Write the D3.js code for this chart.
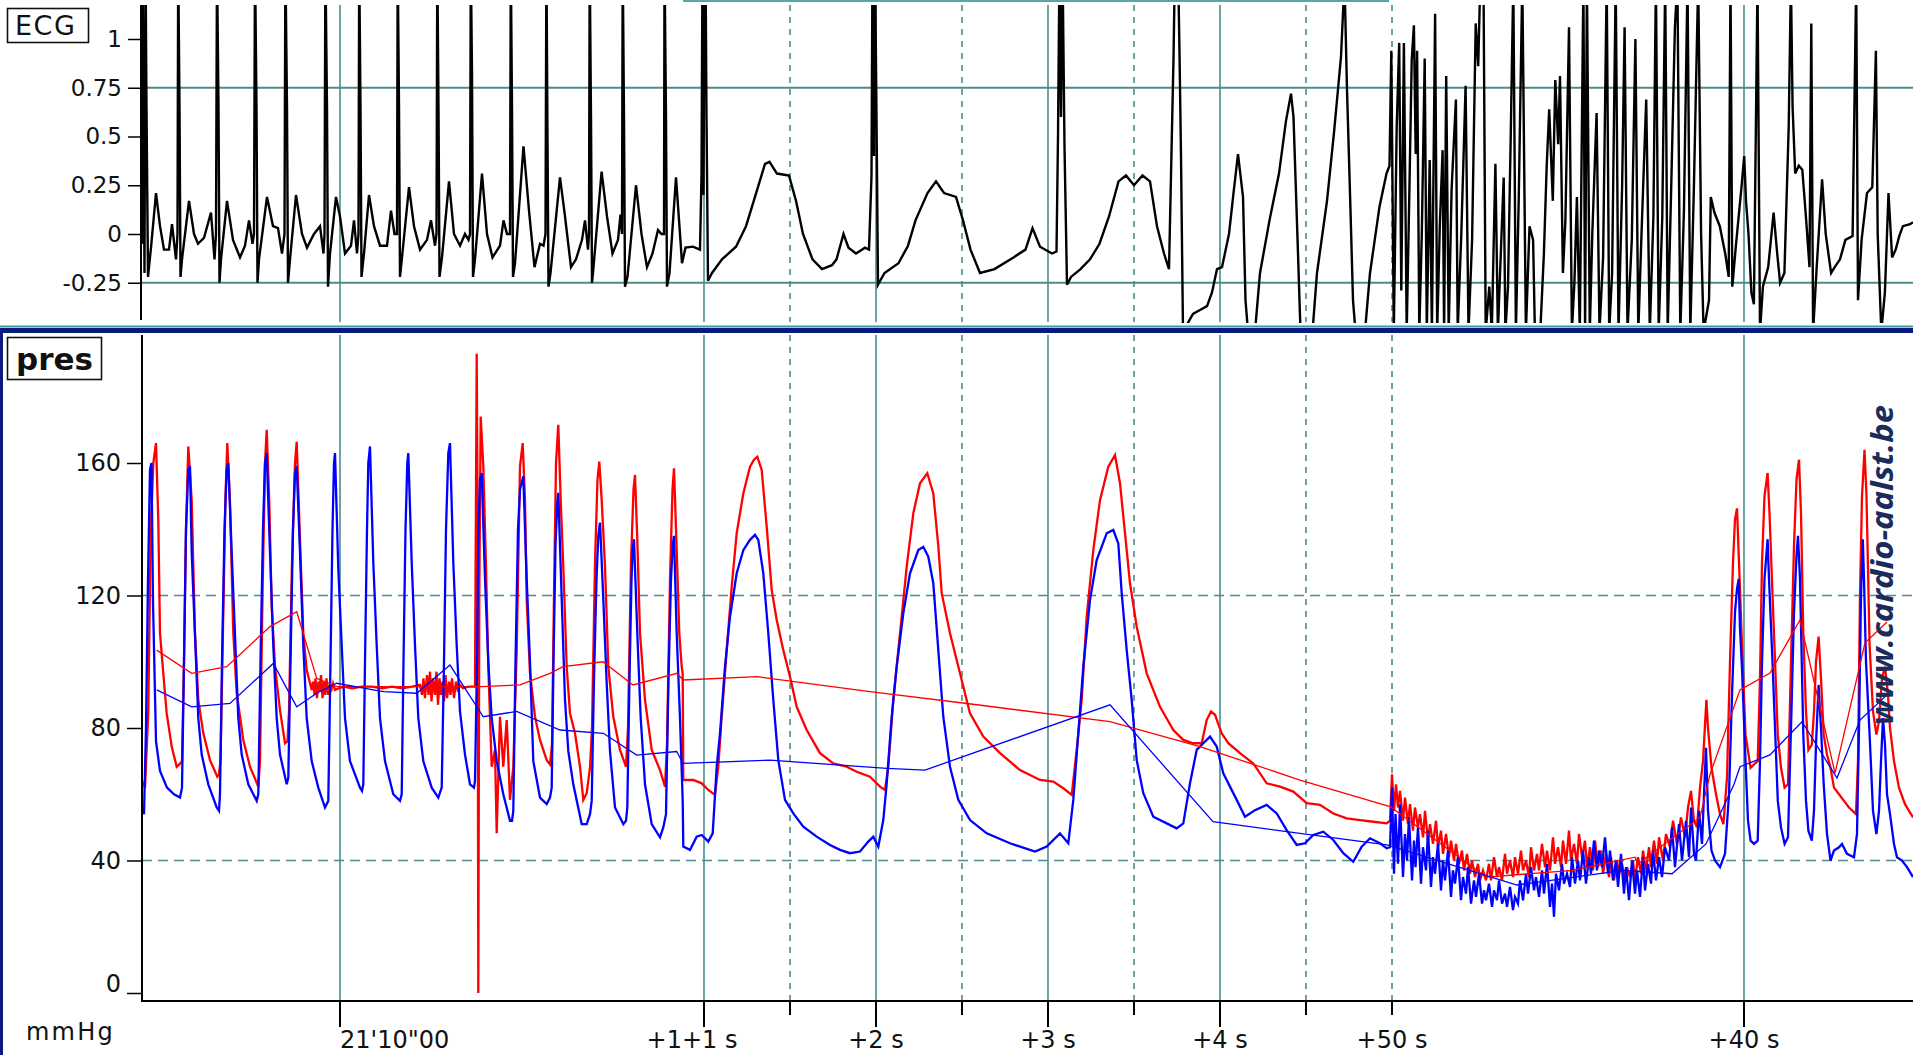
<!DOCTYPE html>
<html><head><meta charset="utf-8">
<script src="https://cdn.jsdelivr.net/npm/d3@7"></script>
<style>
html,body{margin:0;padding:0;background:#fff;overflow:hidden}
svg{display:block}
</style></head><body>
<svg id="chart" width="1913" height="1055"></svg>
<script>
// Recording: ECG (mV) and two pressure channels (mmHg), sampled at 172 samples per second.
// Every trace point is [sample index, value].
const SAMPLE_RATE = 172;
const SAMPLE_COUNT = 1771;

const timeTickSamples = [198, 562, 734, 906, 1078, 1250, 1602];
const timeTickLabels = ["21'10\"00", "+1+1 s", "+2 s", "+3 s", "+4 s", "+50 s", "+40 s"];
const timeTickMajor = [true, true, true, true, true, false, true];
const halfSecondSamples = [648, 820, 992, 1164];

const ecgTickValues = [-0.25, 0, 0.25, 0.5, 0.75, 1];
const ecgTickLabels = ["-0.25", "0", "0.25", "0.5", "0.75", "1"];
const ecgGridValues = [-0.25, 0.75];
const presTickValues = [0, 40, 80, 120, 160];
const presGridValues = [40, 120];

// ECG: regular rhythm
const ecgSinus = [[0,-0.05],[0.5,1.4],[1.5,0.6],[2.5,-0.2],[3.5,1.4],[4.5,0.65],[6,-0.22],[9,-0.07],[14,0.21],[18,0.04],[22,-0.08],[27,-0.08],[30,0.05],[34,-0.13],
[35.5,0],[36.2,1.4],[37.5,0.65],[38.5,-0.22],[40,-0.13],[47,0.17],[52,0],[56,-0.05],[62,-0.02],[69,0.11],[72.5,-0.13],
[74,0],[75,1.4],[76.5,0.65],[77.5,-0.25],[79,-0.13],[85,0.17],[91,-0.03],[98,-0.12],[103,-0.06],[107,0.07],[110.5,-0.05],
[112,0],[113,1.4],[114.5,0.65],[115.5,-0.25],[117,-0.13],[125,0.19],[131,0.04],[136,0.03],[140,-0.1],
[142.5,0],[143.4,1.4],[145,0.65],[146,-0.25],[148,-0.13],[154,0.2],[160,0],[165,-0.07],[172,0],[178,0.04],[181.5,-0.1],
[182.5,0],[183.4,1.4],[185,0.65],[186,-0.27],[188,-0.1],[194,0.19],[198,0.09],[203,-0.1],[209,-0.06],[212,0.07],[215,-0.1],
[216.5,0],[217.2,1.4],[218.5,0.65],[219.5,-0.22],[222,-0.1],[227,0.2],[232,0.04],[238,-0.06],[245,-0.06],[249,0.12],[252.5,0],
[255,0],[255.7,1.4],[257,0.65],[258,-0.22],[260,-0.12],[267,0.24],[272,0.04],[278,-0.08],[285,-0.03],[289,0.07],[293,-0.06],
[294.5,0],[295.3,1.4],[296.5,0.65],[297.5,-0.22],[300,-0.12],[307,0.27],[312,0],[318,-0.06],[323,0],[326.5,-0.03],
[328,0],[328.8,1.4],[330,0.82],[331,-0.22],[333,-0.13],[340,0.31],[345,0],[350.5,-0.12],[358,-0.06],[361.5,0.07],[365,0],
[368,0],[368.8,1.4],[370,0.65],[371,-0.22],[373,-0.15],[381.5,0.45],[387,0.12],[392.5,-0.17],[398,-0.05],[401.5,-0.06],
[403.5,0],[404.4,1.4],[405.5,0.5],[406.5,-0.27],[408.5,-0.2],[418,0.29],[423,0.09],[429,-0.17],[434,-0.13],[440,-0.03],[443,0.07],[446,-0.08],
[447,0],[447.7,1.4],[449,0.6],[450,-0.25],[451,-0.2],[459.6,0.32],[465,0.09],[470.5,-0.1],[476,-0.03],[478.5,0.1],
[480,0],[480.7,1.4],[482,0.6],[483,-0.27],[485.5,-0.22],[494,0.25],[499.5,0],[505,-0.17],[510.5,-0.1],[516,0.02],[519.5,0],
[522,0],[522.5,1.4],[524,0.6],[525,-0.27],[527.5,-0.2],[534,0.29],[538,0],[540,-0.15],[543.5,-0.07]];

// ECG: slow beats with wide waves
const ecgSlow = [[551,-0.065],[558,-0.08],[559.5,0.3],[560.5,1.4],[561.5,0.2],[562.5,1.4],[563.5,1.4],[564.5,0.6],[566,-0.24],[570,-0.2],[580,-0.13],[594,-0.065],[604,0.04],[613,0.19],[623,0.36],[627.5,0.37],[635,0.31],[647,0.3],[654,0.17],[661,0],[670.5,-0.13],[680,-0.18],[690,-0.16],[694.5,-0.13],[701.5,0],[706.5,-0.07],[714,-0.1],[723,-0.07],[727,-0.08],
[729.5,0.3],[730.5,1.4],[732,0.4],[733,1.4],[734.5,0.6],[736,-0.26],[742.5,-0.2],[756.5,-0.15],[766,-0.06],[773.5,0.07],[785.5,0.21],[794,0.27],[802,0.21],[814,0.19],[821,0.07],[828.5,-0.08],[838,-0.2],[852.5,-0.18],[871.5,-0.12],[883.5,-0.08],[890.5,0.03],[898,-0.065],[910,-0.1],[914.5,-0.09],
[916,0.5],[917.5,1.4],[919,0.6],[920.5,1.4],[922.5,0.45],[925,-0.26],[929,-0.22],[938.5,-0.18],[948,-0.13],[957.5,-0.05],[967,0.09],[976.5,0.27],[984,0.3],[992,0.25],[1000.5,0.3],[1008,0.27],[1015,0.04],[1022,-0.1],[1027,-0.18],
[1031.5,0.9],[1033,1.4],[1036,1.4],[1037.5,0.93],[1039,0.4],[1041,-0.5],[1051,-0.41],[1058,-0.39],[1065,-0.37],[1070,-0.3],[1075,-0.18],[1080,-0.17],[1087,0],[1091.5,0.21],[1096,0.41],[1101,0.19],[1103.5,-0.34],[1106,-0.5],[1113,-0.5],[1118,-0.2],[1127.5,0.07],[1137,0.31],[1144,0.58],[1149,0.72],[1151.5,0.6],[1156,-0.1],[1158.5,-0.5],[1170.5,-0.5],[1175,-0.2],[1185,0.17],[1192,0.52],[1199,0.91],[1202.5,1.3],[1205,0.74],[1208.5,0.12],[1211,-0.34],[1213.5,-0.5],[1223,-0.5],[1228,-0.2],[1237.5,0.14],[1244.5,0.31]];

// ECG: fast irregular activity
const ecgFibrillation = [[1247.5,0.35],[1249.3,0.94],[1251.8,-0.5],[1254.7,0.55],[1257.2,0.98],[1259.3,-0.29],[1261.9,0.98],[1264.7,-0.5],[1267.2,0.17],[1269.7,0.89],[1271.9,1.07],[1273.7,0.41],[1275.1,0.94],[1277.3,-0.5],[1279.8,0],[1282.7,0.9],[1284.8,-0.5],[1287.7,0.38],[1289.9,-0.5],[1293.1,1.13],[1295.2,-0.5],[1297.8,0.04],[1300.6,0.43],[1302.1,-0.5],[1304.2,0.81],[1306.7,-0.5],[1309.6,0.23],[1313.9,0.69],[1315.7,-0.5],[1319.3,0],[1323.6,0.76],[1326.5,-0.5],[1330.1,-0.03],[1333.7,1.08],[1336.2,0.86],[1338.3,1.3],[1341.5,1.3],[1343.7,-0.5],[1347.3,-0.27],[1349.8,-0.5],[1353.4,0.36],[1355.9,-0.5],[1358.8,-0.1],[1361.7,0.29],[1363.4,-0.5],[1366,-0.27],[1368.8,0.52],[1371.3,1.3],[1373.9,-0.5],[1376.7,0.17],[1380.3,1.3],[1383.9,-0.5],[1387.5,0.04],[1391.1,-0.03],[1392.9,-0.5],[1398.3,-0.5],[1401.9,-0.1],[1404.7,0.35],[1407.2,0.64],[1410.8,0.17],[1413.3,0.79],[1416.2,0.46],[1418,0.81],[1420.9,-0.2],[1423.4,0.07],[1427,1.06],[1429.9,-0.5],[1432.4,-0.25],[1434.9,0.19],[1437.8,-0.5],[1441.4,1.3],[1443.1,-0.5],[1444.9,1.3],[1447.8,-0.5],[1450.3,0],[1454.6,0.62],[1457.5,-0.5],[1461.1,-0.12],[1464.7,1.3],[1467.2,-0.5],[1470.1,-0.2],[1473.7,1.3],[1476.5,-0.5],[1480.1,0.24],[1482.6,1.06],[1485.5,-0.5],[1489.8,-0.03],[1493.4,1.0],[1496.3,-0.5],[1499.5,0],[1504.2,0.69],[1507.8,-0.5],[1511.4,0.09],[1513.9,1.3],[1516.7,-0.5],[1520.3,0.09],[1523.2,1.3],[1525.7,-0.5],[1529.3,0.26],[1532.9,1.06],[1535.4,1.3],[1538.3,-0.5],[1541.9,0.11],[1545.5,1.3],[1548.3,-0.5],[1551.9,0.24],[1556.2,1.3],[1559.1,0],[1561.6,-0.5],[1567,-0.34],[1568.8,0.19],[1572.4,0.11],[1577.8,0.04],[1583.2,-0.1],[1586.7,-0.22],[1588.5,1.3],[1590.3,-0.27],[1593.9,-0.06],[1599.3,0.23],[1602.2,0.4],[1604,0.17],[1606.5,0],[1609.4,-0.3],[1611.9,-0.36],[1615.5,1.3],[1618,-0.5],[1620.9,-0.27],[1626.2,-0.17],[1631.6,0.11],[1635.2,-0.1],[1638.1,-0.25],[1642.4,-0.2],[1646.7,0.55],[1648.9,1.3],[1650.6,0.65],[1653.2,0.31],[1656.8,0.35],[1660.3,0.33],[1663.9,0.09],[1667.5,-0.17],[1669.3,1.08],[1671.1,-0.5],[1674.7,-0.17],[1680.1,0.28],[1683.7,0],[1689.1,-0.2],[1692.7,-0.17],[1698,-0.13],[1703.4,-0.03],[1710.6,-0.01],[1714.2,1.3],[1716,-0.34],[1719.6,-0.03],[1725,0.21],[1730.3,0.24],[1733.9,0.94],[1735.7,0],[1739.3,-0.5],[1742.9,-0.3],[1746.5,0.21],[1750.1,-0.12],[1753.7,-0.08],[1757.3,-0.01],[1760.9,0.04],[1768,0.05],[1771,0.06]];

// Pressure, red channel
const redSinus = [[0,64],[3,62],[6.3,85],[8.7,138.8],[11.3,160],[14,166],[16.3,142.8],[18,108.6],[21.3,96.5],[24.7,84.4],[29.7,74.4],[34.7,68.3],[37.3,69],
[40,70],[42,100],[44,140],[46.3,165],[49.7,148.8],[53,108.6],[56.3,88.5],[61.3,78.4],[68,70.3],[75.3,65.3],[77,66],
[78.5,70],[81,110],[83.5,150],[85.3,166],[88,148],[91.3,108.6],[94.7,90.5],[101.3,76.4],[108,68.3],[116.3,62.3],
[118,70],[120.5,120],[123,160],[124.7,170],[127.3,148],[129.7,116.6],[133,98.5],[138,85.4],[143,75.4],[145.5,76],
[147,85],[150,130],[153,160],[154.7,166.4],[158,136.8],[161.3,108.6],[164.7,97.5],[169.7,91.5],
[171,94],[172.5,90],[173.5,95],[175,89],[176.5,94],[177.5,91],[179,96],[180.5,89],[182,94],[183,90],[184.5,95],[186,90],[187.5,93],[189,91],[191,93.5],[193,91.5],[197,92],[202,92.5],[210,92],[220,92.5],[230,92.5],[240,92],[250,92.5],[260,92],[270,92.5],[278,93],[280,90],[281.5,95],[283,89],[285,96],[286.5,90],[288,97],[289.5,88],[291,95],[293,90],[294.5,97],[296,87],[297.5,95],[299,90],[300.5,94],[302,88],[303.5,96],[305,89],[307,94],[308.5,90],[310,95],[312,89],[314,94],[316,91],[318,93],[321,92],[327,92.5],[333,92.5],
[334.7,193],[335.5,150],[336.3,0],[337.3,120],[338.7,174],[341.3,159],[344,128.7],[346.3,98.5],[349.7,68.3],[353,73.4],[354.7,48.2],[358,83.4],[361.3,68.3],[364.7,82.4],[368,58.3],[371.3,68.3],[374.7,103.5],[378,159],[380.7,166],[383,148.8],[384.7,118.6],[388,96.5],[393,83.4],[398,76.4],[404.7,70.3],[408,69],
[410,75],[412,120],[414,160],[416.3,171.5],[418.7,148.8],[421.3,128.7],[424.7,98.5],[428,84.4],[433,78.4],[438,68.3],[441.3,58.3],[444.7,60.3],[448,68],
[450,80],[453,130],[455.5,155],[457.3,160.4],[459.7,148.8],[463,128.7],[466.3,98.5],[471.3,83.4],[478,73.4],[484,68.3],
[486,80],[489,130],[491.5,152],[493,156.4],[495.3,136.8],[498,108.6],[503,88.5],[509.7,73.4],[518,67.3],[523,62.3],
[525,75],[528,125],[530.5,152],[532,158.4],[534.7,133.7],[537.3,108.6],[539.7,98.5],[540.7,96.5]];

const redSlow = [[541.3,64.3],[551.3,64.3],[559.7,63.3],[566.3,61.3],[573,59.8],[576.3,68.3],[579.7,83.4],[584.7,103.5],[589.7,122.7],[594.7,138.8],[601.3,150.8],[608,158.9],[612,161],[615.3,161.9],[619.7,157.9],[624.7,140.8],[629.7,121.7],[634.7,112.6],[641.3,103.5],[648,95.5],[654.7,86.4],[664.7,79.4],[678,72.4],[691.3,69.3],[704.7,68.3],[714.7,66.8],[728,65.3],[738,62.3],[743,61.3],[746.3,68.3],[751.3,88.5],[758,108.6],[764.7,128.7],[771.3,144.8],[778,153.9],[785.3,156.9],[791.3,150.8],[796.3,135],[799.7,120.7],[808,108.6],[818,96.5],[828,84.4],[841.3,77.4],[858,72.4],[878,67.3],[898,64.3],[911.3,63.8],[921.3,61.8],[929.7,59.8],[931,63.3],[934.7,73.4],[939.7,88.5],[944.7,113.6],[951.3,133.7],[958,148.8],[966.3,158.9],[973,162.4],[978,153.9],[983,138.8],[988,123.7],[994.7,110.6],[1004.7,96.5],[1018,86.4],[1031.3,79.4],[1041.3,76.4],[1051.3,75.4],[1059.7,75.4],[1064.7,82.4],[1069,85],[1073,84],[1079.7,78.4],[1086.3,75.4],[1098,72.4],[1111.3,69.3],[1124.7,63.3],[1138,62.3],[1151.3,60.8],[1164.7,57.3],[1178,56.8],[1191.3,54.2],[1204.7,52.7],[1218,52.2],[1231.3,51.7],[1244.7,51.2]];

const redFast = [[1248,52],[1250,66],[1252,55],[1254,63],[1256,56],[1258,61],[1261,52],[1263,59],[1266,51],[1268,57],[1271,49],[1273,56],[1276,50],[1278,54],[1281,47],[1283,55],[1286,46],[1288,51],[1291,45],[1294,52],[1296,44],[1299,49],[1301,42],[1304,48],[1307,41],[1309,46],[1312,40],[1314,45],[1317,39],[1320,43],[1322,37],[1325,42],[1328,36],[1330,40],[1333,35],[1336,39],[1338,34],[1341,37],[1344,34],[1347,39],[1349,34],[1352,41],[1355,35],[1357,38],[1360,34],[1363,42],[1365,36],[1368,40],[1371,35],[1373,41],[1376,36],[1379,43],[1381,37],[1384,40],[1387,35],[1389,44],[1392,37],[1395,42],[1397,37],[1400,45],[1403,38],[1405,43],[1408,37],[1411,47],[1413,39],[1416,44],[1419,38],[1421,46],[1424,39],[1427,49],[1429,40],[1432,45],[1435,39],[1437,48],[1440,41],[1443,46],[1445,38],[1448,44],[1451,37],[1453,46],[1456,38],[1459,43],[1461,36],[1464,42],[1467,35],[1469,41],[1472,34],[1475,40],[1477,36],[1480,39],[1483,34],[1485,38],[1488,35],[1491,40],[1493,34],[1496,41],[1499,36],[1501,43],[1504,37],[1507,44],[1509,38],[1512,46],[1515,39],[1517,47],[1521,40],
[1524,48],[1528,44],[1531,52],[1535,45],[1539,53],[1543,47],[1546,56],[1549,61],[1552,52],[1555,50],[1558,62],[1561,70],[1564.4,88.5],[1566,80],[1569.5,68],[1574,60],[1578,54],[1581.4,51],[1585,65],[1588,100],[1591,130],[1593,143],[1595,146.3],[1597,130],[1600,105],[1603.5,78],[1608.6,68],[1612,69],[1615.7,70],[1618,95],[1620,130],[1622.5,150],[1625.6,157],[1627.5,145],[1630.7,118.6],[1635.8,78],[1639,68],[1642.6,62],[1646,63],[1649,100],[1652,135],[1654.5,155],[1657,161],[1659,145],[1661.3,108.6],[1664,85],[1666.4,73.4],[1669.8,75],[1672,85],[1674,100],[1676.6,107.6],[1679,95],[1681.7,78],[1685,72],[1688.5,68],[1692,62],[1697,60],[1702,58],[1707,56],[1714,54],[1716,70],[1718,120],[1720,150],[1722.5,164],[1724.5,150],[1727.6,105],[1731,85],[1734.4,78],[1737,82],[1740,95],[1743,98.5],[1746,90],[1748,80],[1752,70],[1757,62],[1763,57],[1771,53]];

// Pressure, blue channel
const blueSinus = [[0,56],[2,54],[4,80],[6,125],[8,158],[9.5,160],[11,118],[14,76],[18,67],[25,62],[32,60],[38,59],
[40,62],[42,100],[44,140],[46.3,158],[48,159],[49.7,133],[53,108],[56.3,83],[59.7,72],[66.3,63],[74.7,56],[77,55],
[78,60],[80,100],[82.5,140],[84.7,158],[86.3,160],[89.7,133],[93,108],[96.3,83],[99.7,72],[106.3,63],[114.7,58],
[116.3,60],[118.5,100],[121,140],[123,160],[124.7,163],[128,133],[131.3,105],[134.7,83],[138,72],[144.7,63],
[146.3,65],[148.5,100],[151,140],[153,157],[154.7,159],[158,133],[161.3,105],[164.7,83],[169.7,70],[176.3,62],[183,56],
[186.3,58],[188.5,100],[190.5,140],[192,160],[193,163],[196.3,128],[199.7,105],[203,83],[208,70],[218,62],[220,61],
[221.3,63],[223,100],[225,140],[226.3,160],[228,165],[231.3,130],[234.7,105],[238,83],[243,70],[251.3,60],[258,58],
[259.7,60],[261.5,100],[263.5,140],[265.3,160],[266.3,163],[269.7,130],[273,105],[276.3,83],[281.3,70],[289.7,62],[296.3,59],
[299.7,62],[302,100],[304,140],[306.3,163],[308,166],[311.3,130],[314.7,105],[318,85],[323,72],[328,63],[332,62],
[333,64],[335,100],[336.5,140],[338,155],[339.7,157],[343,125],[346.3,100],[349.7,83],[354.7,70],[361.3,60],[368,52],[370,52],
[371.3,55],[373.5,100],[376,140],[378,152],[381.3,156],[384.7,125],[388,100],[391.3,70],[398,59],[404.7,57],[408,59],
[409.7,62],[411.5,100],[413.5,135],[415.3,148],[416.3,151],[419.7,119],[423,88.5],[426.3,73],[431.3,63],[439.7,51],[444.7,51],[448,54],
[449.7,58],[452,95],[454.5,125],[456.3,138],[458,142],[461.3,119],[464.7,93.5],[468,73],[473,56],[481.3,51],[484,52],
[485.3,56],[487.5,95],[489.5,125],[490.7,134],[492,137],[495.3,108.6],[498.7,83],[503,63],[509.7,51],[518,47],[521.3,50],
[524,54],[526.5,95],[529,125],[530.7,135],[532,138],[534.7,108.6],[538,83],[540.7,58]];

const blueSlow = [[541.3,44.2],[548,43.2],[554.7,47.2],[559.7,47.7],[566.3,45.7],[570.7,48.2],[574.7,68.3],[578,78.4],[583,98.5],[588,113.6],[594.7,126.7],[601.3,133.7],[608,136.8],[613,138.3],[616.3,136.8],[621.3,126.7],[626.3,108.6],[631.3,88.5],[636.3,70.3],[643,58.3],[651.3,54.2],[661.3,50.2],[674.7,47.2],[688,44.7],[698,43.2],[708,42.2],[718,42.7],[726.3,45.7],[731.3,47.2],[736.3,44.2],[741.3,52.2],[744.7,63.3],[749.7,83.4],[754.7,98.5],[761.3,114.6],[768,126.7],[776.3,133.7],[781.3,134.7],[786.3,131.7],[791.3,123.7],[796.3,103.5],[801.3,83.4],[808,68.3],[816.3,58.3],[828,52.2],[844.7,48.2],[868,45.2],[893,42.7],[904.7,44.2],[918,48.2],[926.3,45.2],[931.3,58.3],[936.3,78.4],[941.3,98.5],[948,118.6],[954.7,130.7],[964.7,138.8],[971.3,139.8],[976.3,135.7],[979.7,120.7],[984.7,103.5],[989.7,88.5],[994.7,70.3],[1001.3,60.3],[1011.3,53.2],[1024.7,51.2],[1034.7,49.7],[1041.3,51.2],[1048,63.3],[1054.7,73.4],[1061.3,75.4],[1068,77.4],[1074.7,74.4],[1081.3,66.3],[1088,62.3],[1094.7,58.3],[1103,53.2],[1113,55.2],[1124.7,56.8],[1134.7,54.2],[1144.7,49.2],[1154.7,44.7],[1163,45.2],[1171.3,47.7],[1181.3,48.7],[1191.3,46.2],[1201.3,42.2],[1211.3,39.6],[1219.7,44.2],[1228,46.7],[1238,45.2],[1244.7,43.7]];

const blueFast = [[1248,44],[1250,62],[1252,36],[1253.5,54],[1256,39],[1258,57],[1261,35],[1263,48],[1265,40],[1267,53],[1270,34],[1272,46],[1273.5,38],[1276,50],[1279,33],[1281,44],[1284,37],[1286,49],[1289,32],[1291,41],[1293,36],[1296,45],[1299,31],[1301,40],[1303,34],[1306,43],[1309,29],[1311,37],[1313,33],[1316,41],[1319,28],[1321,35],[1324,30],[1326,38],[1329,27],[1332,34],[1334,29],[1337,36],[1340,27],[1342,31],[1344,28],[1347,33],[1350,26],[1352,31],[1355,28],[1357,34],[1360,27],[1363,30],[1365,26],[1368,32],[1371,25],[1373,29],[1376,27],[1378,34],[1381,28],[1384,36],[1386,30],[1389,38],[1392,31],[1394,35],[1397,29],[1400,37],[1402,30],[1405,39],[1408,26],[1410,33],[1412,23],[1414,36],[1417,31],[1420,39],[1422,33],[1425,36],[1428,32],[1430,41],[1433,33],[1436,40],[1438,34],[1441,43],[1444,33],[1447,41],[1449,36],[1452,46],[1455,37],[1457,43],[1460,38],[1463,47],[1466,36],[1468,43],[1471,34],[1474,40],[1476,32],[1479,42],[1482,30],[1484,38],[1487,28],[1490,40],[1493,30],[1495,37],[1498,29],[1501,41],[1503,31],[1506,39],[1509,33],[1511,43],[1514,34],[1517,41],[1520,35],
[1523,44],[1527,40],[1530,50],[1533,38],[1537,51],[1540,40],[1544,52],[1547,41],[1549,56],[1552,42],[1554,40],[1557,55],[1560,45],[1562,60],[1564,74],[1566,55],[1569.5,43],[1573,40],[1578,38],[1583,42],[1587,60],[1590,90],[1593,115],[1595,122],[1596.7,125],[1598,110],[1600,98],[1603.5,70],[1606,52],[1608.6,46],[1612,45],[1615.7,46],[1618,70],[1620,100],[1622.5,125],[1625.6,137],[1627,125],[1630.7,98.5],[1635.8,58],[1639,50],[1642.6,45],[1646,47],[1649,80],[1652,115],[1654.5,132],[1656,138],[1658,125],[1661.3,78],[1664,58],[1666.4,49],[1669.8,46],[1672,55],[1674,75],[1676.6,93],[1679,80],[1681.7,63],[1685,48],[1688.5,40],[1692,43],[1697,44],[1700,45],[1705,42],[1712,41],[1715,48],[1717,80],[1719,120],[1720.8,137],[1722,125],[1724,100],[1727.6,78],[1731,55],[1734.4,48],[1737,55],[1739,70],[1741,83],[1743,75],[1745,60],[1748,54],[1752,45],[1755,41],[1760,40],[1765,38],[1771,35]];

// Beat-by-beat mean pressures
const redMean = [[14.7,103.5],[49.7,96.5],[84.7,98.5],[128,110.6],[154.7,115.1],[174.7,95],[194.7,92.5],[321.3,92.5],[340,92.5],[378,93],[408,96.5],[421,98.5],[461,100],[491,93],[535,96.5],[541,94.5],[615,95.5],[728,91],[825,87.4],[968,81.9],[1058,74.4],[1158,64.3],[1248,56.3],[1344,35],[1431,37],[1493,41],[1496,39],[1558,53],[1568,66],[1598,91.5],[1628,96.6],[1658,112.6],[1693,66.4],[1723,105.7],[1745,112]];
const blueMean = [[14.7,91.5],[49.7,86.4],[88,87.4],[131.3,99.5],[154.7,86.4],[174.7,90.5],[194.7,93.5],[241.3,91],[274.7,90.5],[308,99],[341.3,83.4],[374.7,85],[418,79.4],[461.3,78.4],[494.7,71.8],[534.7,72.9],[541,69.3],[628,70.3],[745,67.8],[783,67.3],[968,87],[1071,51.7],[1158,48.2],[1245,44.7],[1375,32.6],[1481,37],[1530,36],[1564,45],[1592,63],[1598,68.3],[1628,71.9],[1660,81.9],[1695,64.9],[1718,82.4],[1745,90]];

// ---------------------------------------------------------------- drawing
const W = 1913, H = 1055;
const PLOT_LEFT = 142, PLOT_RIGHT = 1913;
const ECG_TOP = 5, ECG_BOTTOM = 323;
const PRES_TOP = 335, PRES_BOTTOM = 1001;
const GRID = "#4b8d8d";
const NAVY = "#0a1a80";
const FONT = "'DejaVu Sans', 'Liberation Sans', sans-serif";

const x = d3.scaleLinear().domain([0, SAMPLE_COUNT]).range([PLOT_LEFT, PLOT_RIGHT]);
const yE = d3.scaleLinear().domain([-0.25, 1]).range([282.75, 39]);
const yP = d3.scaleLinear().domain([0, 160]).range([993, 463]);

const svg = d3.select("#chart");
svg.append("rect").attr("width", W).attr("height", H).attr("fill", "#fff");

const defs = svg.append("defs");
defs.append("clipPath").attr("id", "clipE").append("rect")
  .attr("x", PLOT_LEFT).attr("y", ECG_TOP).attr("width", PLOT_RIGHT - PLOT_LEFT).attr("height", ECG_BOTTOM - ECG_TOP);
defs.append("clipPath").attr("id", "clipP").append("rect")
  .attr("x", PLOT_LEFT).attr("y", PRES_TOP).attr("width", PLOT_RIGHT - PLOT_LEFT).attr("height", PRES_BOTTOM - PRES_TOP);

const majorSamples = timeTickSamples.filter((d, i) => timeTickMajor[i]);
const minorSamples = halfSecondSamples.concat(timeTickSamples.filter((d, i) => !timeTickMajor[i]));

// vertical time grid in both panels
[[ECG_TOP, ECG_BOTTOM - 1], [PRES_TOP, PRES_BOTTOM]].forEach(([t, b]) => {
  const g = svg.append("g");
  g.selectAll("line.maj").data(majorSamples).join("line")
    .attr("x1", d => x(d)).attr("x2", d => x(d)).attr("y1", t).attr("y2", b)
    .attr("stroke", GRID).attr("stroke-width", 1.6);
  g.selectAll("line.min").data(minorSamples).join("line")
    .attr("x1", d => x(d)).attr("x2", d => x(d)).attr("y1", t).attr("y2", b)
    .attr("stroke", GRID).attr("stroke-width", 1.6).attr("stroke-dasharray", "6,6");
});

// horizontal grid
svg.append("g").selectAll("line").data(ecgGridValues).join("line")
  .attr("x1", PLOT_LEFT).attr("x2", PLOT_RIGHT).attr("y1", d => yE(d)).attr("y2", d => yE(d))
  .attr("stroke", GRID).attr("stroke-width", 1.8);
svg.append("g").selectAll("line").data(presGridValues).join("line")
  .attr("x1", PLOT_LEFT).attr("x2", PLOT_RIGHT).attr("y1", d => yP(d)).attr("y2", d => yP(d))
  .attr("stroke", GRID).attr("stroke-width", 1.6).attr("stroke-dasharray", "10,6");

// traces
const lineE = d3.line().x(d => x(d[0])).y(d => yE(d[1]));
const lineP = d3.line().x(d => x(d[0])).y(d => yP(d[1]));

svg.append("path").attr("clip-path", "url(#clipE)")
  .attr("d", lineE(ecgSinus.concat(ecgSlow, ecgFibrillation)))
  .attr("fill", "none").attr("stroke", "#000").attr("stroke-width", 2.4).attr("stroke-linejoin", "miter");

const pres = svg.append("g").attr("clip-path", "url(#clipP)");
pres.append("path").attr("d", lineP(redSinus.concat(redSlow, redFast)))
  .attr("fill", "none").attr("stroke", "#ff0000").attr("stroke-width", 2.3);
pres.append("path").attr("d", lineP(blueSinus.concat(blueSlow, blueFast)))
  .attr("fill", "none").attr("stroke", "#0000ff").attr("stroke-width", 2.3);
pres.append("path").attr("d", lineP(redMean))
  .attr("fill", "none").attr("stroke", "#ff0000").attr("stroke-width", 1.3);
pres.append("path").attr("d", lineP(blueMean))
  .attr("fill", "none").attr("stroke", "#0000ff").attr("stroke-width", 1.3);

// axes
svg.append("line").attr("x1", 141).attr("x2", 141).attr("y1", ECG_TOP).attr("y2", 320)
  .attr("stroke", "#000").attr("stroke-width", 2);
const axE = svg.append("g").attr("transform", "translate(141,0)")
  .call(d3.axisLeft(yE).tickValues(ecgTickValues).tickFormat((d, i) => ecgTickLabels[i]).tickSize(13).tickPadding(6));
axE.select(".domain").remove();
axE.selectAll("line").attr("stroke", "#000").attr("stroke-width", 1.5);
axE.selectAll("text").attr("font-family", FONT).attr("font-size", 23).attr("fill", "#111");

svg.append("line").attr("x1", 142).attr("x2", 142).attr("y1", PRES_TOP).attr("y2", PRES_BOTTOM)
  .attr("stroke", "#000").attr("stroke-width", 2);
svg.append("line").attr("x1", 141).attr("x2", PLOT_RIGHT).attr("y1", PRES_BOTTOM).attr("y2", PRES_BOTTOM)
  .attr("stroke", "#000").attr("stroke-width", 2);
const axP = svg.append("g").attr("transform", "translate(142,0)")
  .call(d3.axisLeft(yP).tickValues(presTickValues).tickSize(15).tickPadding(6));
axP.select(".domain").remove();
axP.selectAll("line").attr("stroke", "#000").attr("stroke-width", 1.5);
axP.selectAll("text").attr("font-family", FONT).attr("font-size", 24).attr("fill", "#111");
axP.selectAll(".tick").filter(d => d === 0).select("text").attr("y", -9);

// time ticks and labels
svg.append("g").selectAll("line").data(majorSamples).join("line")
  .attr("x1", d => x(d)).attr("x2", d => x(d)).attr("y1", PRES_BOTTOM).attr("y2", PRES_BOTTOM + 26)
  .attr("stroke", "#000").attr("stroke-width", 2);
svg.append("g").selectAll("line").data(minorSamples).join("line")
  .attr("x1", d => x(d)).attr("x2", d => x(d)).attr("y1", PRES_BOTTOM).attr("y2", PRES_BOTTOM + 14)
  .attr("stroke", "#000").attr("stroke-width", 2);
svg.append("g").selectAll("text").data(timeTickSamples).join("text")
  .attr("x", (d, i) => x(d) + (i === 1 ? -12 : 0))
  .attr("y", 1048)
  .attr("text-anchor", (d, i) => i === 0 ? "start" : "middle")
  .attr("font-family", FONT).attr("font-size", 24).attr("fill", "#111")
  .text((d, i) => timeTickLabels[i]);

svg.append("text").attr("x", 26).attr("y", 1040).attr("font-family", FONT).attr("font-size", 24)
  .attr("letter-spacing", 2.2).attr("fill", "#111").text("mmHg");

// channel name boxes
svg.append("rect").attr("x", 7.5).attr("y", 8.5).attr("width", 81).attr("height", 34)
  .attr("fill", "#fff").attr("stroke", "#111").attr("stroke-width", 1.6);
svg.append("text").attr("x", 15).attr("y", 35).attr("font-family", FONT).attr("font-size", 27)
  .attr("letter-spacing", 1.5).attr("fill", "#111").text("ECG");
svg.append("rect").attr("x", 7.5).attr("y", 337.5).attr("width", 94).attr("height", 42)
  .attr("fill", "#fff").attr("stroke", "#111").attr("stroke-width", 1.6);
svg.append("text").attr("x", 16).attr("y", 370).attr("font-family", FONT).attr("font-size", 31)
  .attr("font-weight", "bold").attr("fill", "#111").text("pres");

// panel frame
svg.append("rect").attr("x", 0).attr("y", 325.5).attr("width", W).attr("height", 2).attr("fill", "#3c9a9a");
svg.append("rect").attr("x", 0).attr("y", 328).attr("width", W).attr("height", 5).attr("fill", NAVY);
svg.append("rect").attr("x", 0).attr("y", 328).attr("width", 3).attr("height", H - 328).attr("fill", NAVY);
svg.append("rect").attr("x", 683).attr("y", 0).attr("width", 706).attr("height", 2).attr("fill", "#5aa5a5");

// site mark
svg.append("text")
  .attr("transform", "translate(1893,725) rotate(-90)")
  .attr("font-family", "'Open Sans', 'DejaVu Sans', sans-serif")
  .attr("font-weight", 700).attr("font-style", "italic").attr("font-size", 31)
  .attr("fill", "#1b2c5c").attr("textLength", 320).attr("lengthAdjust", "spacingAndGlyphs")
  .text("www.cardio-aalst.be");
</script></body></html>
